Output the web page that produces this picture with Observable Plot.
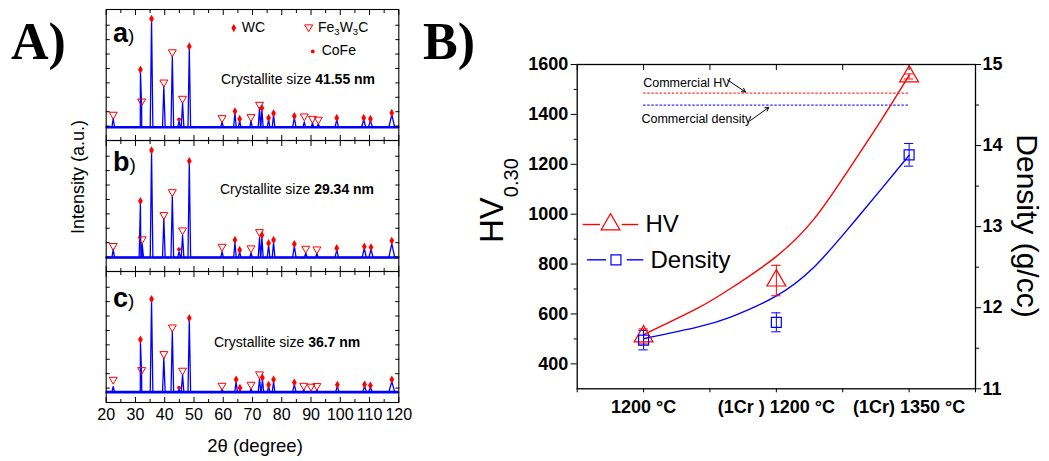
<!DOCTYPE html>
<html><head><meta charset="utf-8">
<script src="https://cdn.jsdelivr.net/npm/d3@7"></script>
<script src="https://cdn.jsdelivr.net/npm/@observablehq/plot@0.6"></script>
<style>
html,body{margin:0;padding:0;background:#fff;}
#fig{position:relative;width:1049px;height:461px;overflow:hidden;font-family:"Liberation Sans",Arial,sans-serif;}
#fig > svg{position:absolute;top:0;}
</style></head><body><div id="fig"></div>
<script>
// ---------------- Panel A data (XRD) ----------------
const patterns = ["a", "b", "c"];
const crystallite = ["41.55 nm", "29.34 nm", "36.7 nm"];
const baseA = 10.1, baseB = 10.7, baseC = 7.9;
// [2theta, peak intensity, half width]
const peaksA = [[22.4,16.7],[31.7,52.8],[32.1,26.1],[35.5,92.2],[39.7,41.4],[42.6,64.2],[44.9,14.7],[46.1,28.6],[48.4,70.5],[59.6,14.2],[64.0,21.0],[65.6,15.2],[69.5,14.7],[72.4,24.8],[73.2,23.6],[75.5,16.0],[77.2,19.8],[84.3,17.2,0.6],[87.7,14.2],[90.5,13.4],[92.5,12.6],[98.8,16.0,0.6],[108.0,16.0,0.7],[110.3,15.2,0.7],[117.6,19.8,1.0]];
const peaksB = [[22.4,17.0],[31.7,52.6],[32.3,20.9],[35.5,91.4],[39.7,40.6],[42.6,57.7],[44.9,15.2],[46.1,27.7],[48.4,83.0],[59.6,15.2],[64.0,22.1],[65.6,15.2],[69.5,14.2],[72.4,25.9],[73.2,26.4],[75.5,20.3],[77.2,22.6],[84.3,19.3,0.6],[88.2,14.2],[92.0,13.7],[98.8,16.5,0.6],[108.2,17.8,0.7],[110.5,17.0,0.7],[117.6,21.3,1.0]];
const peaksC = [[22.4,12.2],[31.7,46.7],[32.1,21.3],[35.5,77.7],[39.7,34.0],[42.6,54.3],[44.9,10.1],[46.1,21.1],[48.4,63.2],[59.6,10.1],[64.4,16.0],[65.7,9.9],[69.5,10.4],[72.4,18.0],[73.4,17.3],[75.5,12.2],[77.2,16.0],[84.3,13.9,0.6],[87.5,9.6],[90.0,8.9],[92.0,9.4],[99.0,12.2,0.6],[108.3,12.2,0.7],[110.3,11.4,0.7],[117.6,16.0,1.0]];
// phase markers: [phase, 2theta, marker height]
const markersA = [["F",22.4,19.8],["W",31.7,54.1],["F",32.1,29.9],["W",35.5,92.9],["F",39.7,44.4],["F",42.6,67.5],["C",44.9,16.2],["F",46.1,32.0],["W",48.4,71.8],["F",59.6,17.2],["W",64.0,22.3],["W",65.6,16.5],["F",69.5,18.0],["F",72.4,27.4],["W",73.2,24.8],["W",75.5,17.2],["W",77.2,20.8],["W",84.3,18.7],["F",87.7,18.5],["F",90.5,16.7],["F",92.5,16.0],["W",98.8,17.2],["W",108.0,17.2],["W",110.3,16.5],["W",117.6,21.0]];
const markersB = [["F",22.4,19.6],["W",31.7,53.8],["F",32.3,24.7],["W",35.5,92.5],["F",39.7,43.2],["F",42.6,60.7],["C",44.9,17.0],["F",46.1,31.5],["W",48.4,84.3],["F",59.6,19.0],["W",64.0,24.1],["W",65.6,16.5],["F",69.5,17.8],["F",72.4,30.2],["W",73.2,27.7],["W",75.5,21.6],["W",77.2,24.1],["W",84.3,20.9],["F",88.2,17.5],["F",92.0,17.0],["W",98.8,17.8],["W",108.2,19.0],["W",110.5,18.5],["W",117.6,23.4]];
const markersC = [["F",22.4,17.5],["W",31.7,48.0],["F",32.1,24.9],["W",35.5,79.0],["F",39.7,37.1],["F",42.6,57.4],["C",44.9,11.4],["F",46.1,24.4],["W",48.4,64.5],["F",59.6,12.9],["W",64.4,17.5],["W",65.7,11.2],["F",69.5,13.7],["F",72.4,21.6],["W",73.4,18.8],["W",75.5,13.5],["W",77.2,17.5],["W",84.3,15.2],["F",87.5,12.9],["F",90.0,12.2],["F",92.0,12.7],["W",99.0,13.5],["W",108.3,13.7],["W",110.3,12.9],["W",117.6,17.5]];
const xTicksA = [20,30,40,50,60,70,80,90,100,110,120];
const xMinorA = [25,35,45,55,65,75,85,95,105,115];
const yTicksA = [11,22,33,44,55,66,77,88];
// legend marker positions (facet a, data units)
const legendA = [["W",63.6,85.8],["F",89.2,86.5],["C",90.6,68.0]];

// ---------------- Panel B data ----------------
const cats = ["1200 °C", "(1Cr ) 1200 °C", "(1Cr) 1350 °C"];
const catX = [1, 2, 3];
const hvMean = [510, 734, 1552];
const hvErr = [30, 61, 10];
const densMean = [11.60, 11.82, 13.886];
const densErr = [0.12, 0.117, 0.14];
const fitX = [1, 1.404, 1.655, 1.994, 2.283, 2.534, 2.784, 3];
const hvFit = [517, 622, 702, 828, 980, 1170, 1372, 1556];
const densFit = [11.617, 11.76, 11.885, 12.14, 12.50, 12.96, 13.45, 13.88];
const commercialHV = 1485;
const commercialDensity = 14.5;
const hvTicks = [400,600,800,1000,1200,1400,1600];
const hvMinor = [500,700,900,1100,1300,1500];
const densTicks = [11,12,13,14,15];
const densMinor = [11.5,12.5,13.5,14.5];
const xTicksB = [0.5,1,1.5,2,2.5,3,3.5];

// ---------------- build tables ----------------
function lineRows(p, base, peaks) {
  const pts = [[20, base], [120, base]];
  for (const [pos, tip, hw = 0.45] of peaks) pts.push([pos - hw, base], [pos, tip], [pos + hw, base]);
  pts.sort((u, v) => u[0] - v[0]);
  return pts.map(([x, y]) => ({p, x, y}));
}
const lines = [...lineRows("a", baseA, peaksA), ...lineRows("b", baseB, peaksB), ...lineRows("c", baseC, peaksC)];
const bases = [{p:"a", y: baseA}, {p:"b", y: baseB}, {p:"c", y: baseC}];
const marks = [
  ...markersA.map(([ph, x, y]) => ({p:"a", ph, x, y})),
  ...markersB.map(([ph, x, y]) => ({p:"b", ph, x, y})),
  ...markersC.map(([ph, x, y]) => ({p:"c", ph, x, y}))
];
const legA = legendA.map(([ph, x, y]) => ({p:"a", ph, x, y}));
const allMarks = marks.concat(legA);

const invTriangle = {draw(ctx, size) {
  const s = Math.sqrt(size) * 0.6824, t = s / 2, u = s * Math.sqrt(3) / 2;
  ctx.moveTo(0, s); ctx.lineTo(u, -t); ctx.lineTo(-u, -t); ctx.closePath();
}};
const RED = "#ff0000", BLUE = "#0000ff";
const noLab = () => "";

const plotA = Plot.plot({
  width: 420, height: 461,
  marginLeft: 105.7, marginRight: 21.7, marginTop: 8, marginBottom: 59,
  style: {fontFamily: "Liberation Sans, Arial, sans-serif", background: "transparent", color: "#000"},
  x: {domain: [20, 120], axis: null},
  y: {domain: [0, 100], axis: null},
  fy: {domain: patterns, padding: 0, axis: null},
  marks: [
    Plot.ruleY(bases, {y: "y", fy: "p", stroke: BLUE, strokeWidth: 2.6}),
    Plot.line(lines, {x: "x", y: "y", fy: "p", z: "p", stroke: BLUE, strokeWidth: 1.3}),
    Plot.frame({stroke: "#000", strokeWidth: 1.1}),
    Plot.axisX({anchor: "bottom", ticks: xTicksA, tickSize: -5, tickFormat: noLab, label: null, facetAnchor: null}),
    Plot.axisX({anchor: "bottom", ticks: xMinorA, tickSize: -3, tickFormat: noLab, label: null, facetAnchor: null}),
    Plot.axisX({anchor: "top", ticks: xTicksA, tickSize: -5, tickFormat: noLab, label: null, facetAnchor: null}),
    Plot.axisX({anchor: "top", ticks: xMinorA, tickSize: -3, tickFormat: noLab, label: null, facetAnchor: null}),
    Plot.axisY({anchor: "left", ticks: yTicksA, tickSize: -4, tickFormat: noLab, label: null}),
    Plot.axisY({anchor: "right", ticks: yTicksA, tickSize: -4, tickFormat: noLab, label: null}),
    Plot.axisX({anchor: "bottom", ticks: xTicksA, tickSize: 0, tickPadding: 6.3, fontSize: 16, label: null, tickFormat: d => String(d)}),
    Plot.dot(allMarks.filter(d => d.ph === "W"), {x: "x", y: "y", fy: "p", symbol: "diamond", r: 2.5, fill: RED}),
    Plot.dot(allMarks.filter(d => d.ph === "F"), {x: "x", y: "y", fy: "p", symbol: invTriangle, r: 3.8, fill: "none", stroke: RED, strokeWidth: 1}),
    Plot.dot(allMarks.filter(d => d.ph === "C"), {x: "x", y: "y", fy: "p", symbol: "circle", r: 1.9, fill: RED})
  ]
});
plotA.style.left = "0px";

const hv = d => 300 + (d - 11) * 325;
const ptsHV = catX.map((x, i) => ({x, y: hvMean[i], e: hvErr[i]}));
const ptsD = catX.map((x, i) => ({x, y: hv(densMean[i]), e: densErr[i] * 325}));
const fitHV = fitX.map((x, i) => ({x, y: hvFit[i]}));
const fitD = fitX.map((x, i) => ({x, y: hv(densFit[i])}));
const capW = 0.035;
const commercialText = [
  {x: 0.997, y: 1525, t: "Commercial HV"},
  {x: 0.984, y: 1382, t: "Commercial density"}
];
const arrowsB = [
  {x1: 1.632, y1: 1538, x2: 1.767, y2: 1490},
  {x1: 1.806, y1: 1376, x2: 1.943, y2: 1428}
];
const legSeg = [
  {c: RED, y: 958.6, x1: 0.545, x2: 0.675}, {c: RED, y: 958.6, x1: 0.839, x2: 0.964},
  {c: BLUE, y: 817, x1: 0.578, x2: 0.721}, {c: BLUE, y: 817, x1: 0.877, x2: 1.002}
];
const legSym = [{x: 0.751, y: 958.6, c: RED}, {x: 0.792, y: 817, c: BLUE}];
const legText = [{x: 1.014, y: 958.6, t: "HV"}, {x: 1.052, y: 817, t: "Density"}];

const plotB = Plot.plot({
  width: 629, height: 461,
  marginLeft: 156.7, marginRight: 74, marginTop: 64, marginBottom: 72.7,
  style: {fontFamily: "Liberation Sans, Arial, sans-serif", background: "transparent", color: "#000"},
  x: {domain: [0.5, 3.5], axis: null},
  y: {domain: [300, 1600], axis: null},
  marks: [
    Plot.frame({stroke: "#000", strokeWidth: 1.3}),
    Plot.axisY({anchor: "left", ticks: hvTicks, tickSize: 6, tickPadding: 3, fontSize: 18, fontWeight: "bold", label: null, tickFormat: d => String(d)}),
    Plot.axisY({anchor: "left", ticks: hvMinor, tickSize: 3, tickFormat: noLab, label: null}),
    Plot.axisY({anchor: "right", ticks: densTicks.map(hv), tickSize: 5, tickPadding: 2, fontSize: 18, fontWeight: "bold", label: null,
      tickFormat: v => String(Math.round(11 + (v - 300) / 325))}),
    Plot.axisY({anchor: "right", ticks: densMinor.map(hv), tickSize: 3, tickFormat: noLab, label: null}),
    Plot.axisX({anchor: "bottom", ticks: xTicksB, tickSize: 4, tickFormat: noLab, label: null}),
    Plot.axisX({anchor: "bottom", ticks: catX, tickSize: 0, tickPadding: 11.7, fontSize: 18, fontWeight: "bold", label: null,
      tickFormat: v => cats[catX.indexOf(v)]}),
    Plot.axisX({anchor: "top", ticks: xTicksB, tickSize: -5, tickFormat: noLab, label: null}),
    Plot.ruleY([commercialHV], {x1: 1, x2: 3, stroke: "#ff3b3b", strokeWidth: 1.2, strokeDasharray: "2.5,1.6"}),
    Plot.ruleY([hv(commercialDensity)], {x1: 1, x2: 3, stroke: "#3030ff", strokeWidth: 1.2, strokeDasharray: "2.5,1.6"}),
    Plot.text(commercialText, {x: "x", y: "y", text: "t", textAnchor: "start", fontSize: 12.5, fill: "#000"}),
    Plot.arrow(arrowsB, {x1: "x1", y1: "y1", x2: "x2", y2: "y2", stroke: "#000", strokeWidth: 1, headLength: 6}),
    Plot.line(fitHV, {x: "x", y: "y", stroke: RED, strokeWidth: 1.4, curve: "natural"}),
    Plot.line(fitD, {x: "x", y: "y", stroke: BLUE, strokeWidth: 1.4, curve: "natural"}),
    Plot.ruleX(ptsHV, {x: "x", y1: d => d.y - d.e, y2: d => d.y + d.e, stroke: RED, strokeWidth: 1}),
    Plot.ruleY(ptsHV, {y: d => d.y - d.e, x1: d => d.x - capW, x2: d => d.x + capW, stroke: RED, strokeWidth: 1}),
    Plot.ruleY(ptsHV, {y: d => d.y + d.e, x1: d => d.x - capW, x2: d => d.x + capW, stroke: RED, strokeWidth: 1}),
    Plot.ruleX(ptsD, {x: "x", y1: d => d.y - d.e, y2: d => d.y + d.e, stroke: BLUE, strokeWidth: 1}),
    Plot.ruleY(ptsD, {y: d => d.y - d.e, x1: d => d.x - capW, x2: d => d.x + capW, stroke: BLUE, strokeWidth: 1}),
    Plot.ruleY(ptsD, {y: d => d.y + d.e, x1: d => d.x - capW, x2: d => d.x + capW, stroke: BLUE, strokeWidth: 1}),
    Plot.dot(ptsHV, {x: "x", y: "y", symbol: "triangle", r: 7, fill: "none", stroke: RED, strokeWidth: 1.2}),
    Plot.dot(ptsD, {x: "x", y: "y", symbol: "square", r: 5.6, fill: "none", stroke: BLUE, strokeWidth: 1.2}),
    Plot.ruleY(legSeg, {y: "y", x1: "x1", x2: "x2", stroke: "c", strokeWidth: 1.4}),
    Plot.dot(legSym.slice(0, 1), {x: "x", y: "y", symbol: "triangle", r: 7, fill: "none", stroke: RED, strokeWidth: 1.2}),
    Plot.dot(legSym.slice(1), {x: "x", y: "y", symbol: "square", r: 5.6, fill: "none", stroke: BLUE, strokeWidth: 1.2}),
    Plot.text(legText, {x: "x", y: "y", text: "t", textAnchor: "start", fontSize: 24, fill: "#000"})
  ]
});
plotB.style.left = "420px";

const fig = document.getElementById("fig");
fig.appendChild(plotA);
fig.appendChild(plotB);

// ---------------- text overlay ----------------
const ov = d3.select(fig).append("svg").attr("width", 1049).attr("height", 461)
  .style("position", "absolute").style("left", "0px").style("top", "0px")
  .attr("font-family", "Liberation Sans, Arial, sans-serif");
ov.append("text").attr("x", 11).attr("y", 58.5).attr("font-family", "Liberation Serif, Times New Roman, serif")
  .attr("font-weight", "bold").attr("font-size", 52).text("A)");
ov.append("text").attr("x", 423).attr("y", 58.5).attr("font-family", "Liberation Serif, Times New Roman, serif")
  .attr("font-weight", "bold").attr("font-size", 52).text("B)");
const letterBase = [41.7, 171.3, 307];
const sizeBase = [84, 194, 347];
const sizeX = [221, 220, 214];
patterns.forEach((p, i) => {
  const t = ov.append("text").attr("x", 113).attr("y", letterBase[i]);
  t.append("tspan").attr("font-weight", "bold").attr("font-size", 27).text(p);
  t.append("tspan").attr("font-size", 19).text(")");
  const s = ov.append("text").attr("x", sizeX[i]).attr("y", sizeBase[i]).attr("font-size", 14);
  s.append("tspan").text("Crystallite size ");
  s.append("tspan").attr("font-weight", "bold").text(crystallite[i]);
});
ov.append("text").attr("x", 241.7).attr("y", 31.7).attr("font-size", 14).text("WC");
const fe = ov.append("text").attr("x", 318).attr("y", 31.7).attr("font-size", 14);
fe.append("tspan").text("Fe");
fe.append("tspan").attr("font-size", 9.5).attr("dy", 3).text("3");
fe.append("tspan").attr("dy", -3).text("W");
fe.append("tspan").attr("font-size", 9.5).attr("dy", 3).text("3");
fe.append("tspan").attr("dy", -3).text("C");
ov.append("text").attr("x", 321.7).attr("y", 55).attr("font-size", 14).text("CoFe");
ov.append("text").attr("transform", "translate(78,177) rotate(-90)").attr("text-anchor", "middle")
  .attr("dominant-baseline", "central").attr("font-size", 18).text("Intensity (a.u.)");
ov.append("text").attr("x", 255).attr("y", 452).attr("text-anchor", "middle").attr("font-size", 18.5).text("2θ (degree)");
const hvl = ov.append("text").attr("transform", "translate(503,243) rotate(-90)").attr("font-size", 33);
hvl.append("tspan").text("HV");
hvl.append("tspan").attr("font-size", 20).attr("dy", 15).text("0.30");
ov.append("text").attr("transform", "translate(1027,226) rotate(90)").attr("text-anchor", "middle")
  .attr("dominant-baseline", "central").attr("font-size", 30).text("Density (g/cc)");
</script></body></html>
